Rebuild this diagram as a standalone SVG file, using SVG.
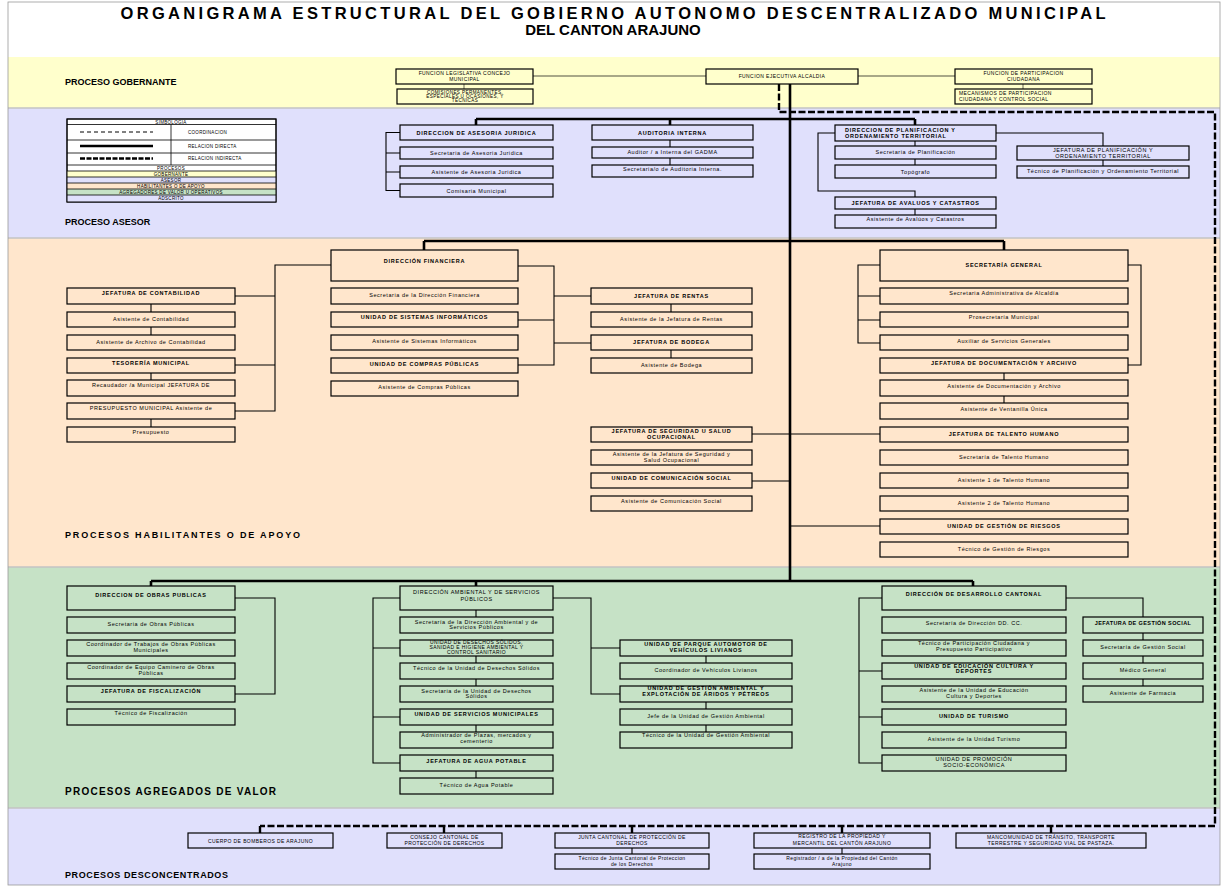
<svg xmlns="http://www.w3.org/2000/svg" width="1226" height="889" viewBox="0 0 1226 889">
<style>
.t{font-family:"Liberation Sans",Arial,sans-serif;font-size:5.5px;text-anchor:middle;fill:#000;letter-spacing:0.55px}
.s{font-size:5px;letter-spacing:0.4px}
.tb{font-family:"Liberation Sans",Arial,sans-serif;font-size:5.5px;text-anchor:middle;font-weight:bold;fill:#000;letter-spacing:0.75px}
.st{text-anchor:start}
.bx{fill:none;stroke:#000;stroke-width:1.2}
.ln{fill:none;stroke:#000;stroke-width:1.1}
.tk{fill:none;stroke:#000;stroke-width:2.6}
.gr{fill:none;stroke:#8c8c70;stroke-width:1.3}
.ds{fill:none;stroke:#000;stroke-width:2.4;stroke-dasharray:7 2.5}
.lab{font-family:"Liberation Sans",Arial,sans-serif;font-size:9px;font-weight:bold;fill:#000}
.ttl{font-family:"Liberation Sans",Arial,sans-serif;font-size:15px;font-weight:bold;text-anchor:middle;fill:#000}
.lg{font-family:"Liberation Sans",Arial,sans-serif;font-size:4.5px;fill:#000;letter-spacing:0.3px}
</style>
<rect x="0" y="0" width="1226" height="889" fill="#fff"/>
<g id="bands">
<rect x="8" y="57" width="1212" height="51" fill="#FFFFCC"/>
<rect x="8" y="108" width="1212" height="130" fill="#E0E0FC"/>
<rect x="8" y="238" width="1212" height="329" fill="#FFE6CC"/>
<rect x="8" y="567" width="1212" height="241" fill="#C6E2C6"/>
<rect x="8" y="808" width="1212" height="77" fill="#E0E0FC"/>
<path d="M8,108H1220M8,238H1220M8,567H1220M8,808H1220" stroke="#c4c4c4" stroke-width="1.5"/>
<rect x="8" y="2" width="1212" height="883" fill="none" stroke="#999" stroke-width="0.8"/>
</g>
<g id="title">
<text class="ttl" x="613" y="19" style="font-size:16.5px" textLength="985" lengthAdjust="spacing">ORGANIGRAMA ESTRUCTURAL DEL GOBIERNO AUTONOMO DESCENTRALIZADO MUNICIPAL</text>
<text class="ttl" x="613" y="35">DEL CANTON ARAJUNO</text>
</g>
<g id="labels">
<text class="lab" x="65" y="85">PROCESO  GOBERNANTE</text>
<text class="lab" x="65" y="225">PROCESO  ASESOR</text>
<text class="lab" x="65" y="538" textLength="235" lengthAdjust="spacing">PROCESOS HABILITANTES O DE APOYO</text>
<text class="lab" x="65" y="795" style="font-size:10px" textLength="211" lengthAdjust="spacing">PROCESOS AGREGADOS DE VALOR</text>
<text class="lab" x="65" y="878" textLength="163" lengthAdjust="spacing">PROCESOS DESCONCENTRADOS</text>
</g>
<g id="legend">
<rect x="67" y="119" width="209" height="83" fill="#fff" stroke="#000" stroke-width="1"/>
<rect x="67" y="171" width="209" height="6" fill="#FFFFCC"/>
<rect x="67" y="177" width="209" height="6" fill="#E0E0FC"/>
<rect x="67" y="183" width="209" height="6" fill="#FFE6CC"/>
<rect x="67" y="189" width="209" height="6" fill="#C6E2C6"/>
<rect x="67" y="195" width="209" height="7" fill="#E0E0FC"/>
<path d="M67,124.5H276M67,140H276M67,153H276M67,165H276M67,171H276M67,177H276M67,183H276M67,189H276M67,195H276M171,124.5V165" stroke="#000" stroke-width="0.8" fill="none"/>
<rect x="67" y="119" width="209" height="83" fill="none" stroke="#000" stroke-width="1"/>
<text class="lg" x="171" y="123.5" text-anchor="middle">SIMBOLOGIA</text>
<path d="M80,132H153" stroke="#000" stroke-width="1" stroke-dasharray="4 3"/>
<text class="lg" x="188" y="134">COORDINACION</text>
<path d="M80,146H153" stroke="#000" stroke-width="2.6"/>
<text class="lg" x="188" y="147.5">RELACION  DIRECTA</text>
<path d="M80,158.5H153" stroke="#000" stroke-width="2.6" stroke-dasharray="5 1.5"/>
<text class="lg" x="188" y="160">RELACION  INDIRECTA</text>
<text class="lg" x="171" y="169.8" text-anchor="middle">PROCESOS</text>
<text class="lg" x="171" y="175.8" text-anchor="middle">GOBERNANTE</text>
<text class="lg" x="171" y="181.8" text-anchor="middle">ASESOR</text>
<text class="lg" x="171" y="187.8" text-anchor="middle">HABILITANTES O  DE  APOYO</text>
<text class="lg" x="171" y="193.8" text-anchor="middle">AGREGADORES DE  VALOR  U OPERATIVOS</text>
<text class="lg" x="171" y="200.3" text-anchor="middle">ADSCRITO</text>
</g>
<g id="connectors">
<path class="gr" d="M533,76H706M858,76H955M464,84V89M1023,84V89"/>
<path class="tk" d="M790,84V581"/>
<path class="ds" d="M779,84V112H1215V826H260M260,826V833M444,826V833M632,826V833M842,826V833M1051,826V833"/>
<path class="tk" d="M476,119H915M476,119V125M670,119V125M915,119V125"/>
<path class="ln" d="M400,132.5H386V190.5H400M386,153H400M386,172H400"/>
<path class="ln" d="M670,140V147M670,158V165"/>
<path class="ln" d="M915,141V146M915,159V165M835,133H818V191H915V197M996,133H1103V146M1103,160V166M915,209V215"/>
<path class="tk" d="M424,241H1004M424,241V250M1004,241V250"/>
<path class="ln" d="M151,304V312M151,327V335M151,373V380M151,419V427"/>
<path class="ln" d="M331,265H275V411H235M275,296H235M275,365H235"/>
<path class="ln" d="M518,266H554V365H518M554,320H518M554,296H591M554,343H591"/>
<path class="ln" d="M671,304V312M671,350V358"/>
<path class="ln" d="M752,434H880M752,481H790M790,526H880"/>
<path class="ln" d="M880,265H858V343H880M858,296H880M858,320H880M1128,265H1141V365H1128M1004,373V380M1004,396V403"/>
<path class="tk" d="M151,581H973M151,581V586M476,581V586M973,581V586"/>
<path class="ln" d="M235,598H275V694H235"/>
<path class="ln" d="M476,610V617M476,656V663M476,679V686M476,725V732M476,771V778"/>
<path class="ln" d="M400,598H373V763H400M373,648H400M373,717H400"/>
<path class="ln" d="M553,598H591V694H620M591,648H620"/>
<path class="ln" d="M706,656V663M706,702V709M706,725V732"/>
<path class="ln" d="M882,598H859V763H882M859,671H882M859,717H882"/>
<path class="ln" d="M1066,598H1143V617M1143,633V640M1143,656V663M1143,679V686"/>
<path class="ln" d="M632,848V854M842,848V854"/>
</g>
<!-- GOBERNANTE -->
<g id="n-legislativa"><rect class="bx" x="396" y="69" width="137" height="15"/><text class="t s" x="464.5" y="75">FUNCION  LEGISLATIVA CONCEJO</text><text class="t s" x="464.5" y="81">MUNICIPAL</text></g>
<g id="n-comisiones"><rect class="bx" x="397" y="89" width="136" height="15"/><text class="t s" x="465" y="93.5" style="font-size:4.6px">COMISIONES PERMANENTES,</text><text class="t s" x="465" y="97.8" style="font-size:4.6px">ESPECIALES U OCASIONES, Y</text><text class="t s" x="465" y="102.1" style="font-size:4.6px">TECNICAS</text></g>
<g id="n-ejecutiva"><rect class="bx" x="706" y="69" width="152" height="15"/><text class="t s" x="782" y="78">FUNCION  EJECUTIVA  ALCALDIA</text></g>
<g id="n-participacion"><rect class="bx" x="955" y="69" width="137" height="15"/><text class="t s" x="1023.5" y="75">FUNCION  DE PARTICIPACION</text><text class="t s" x="1023.5" y="81">CIUDADANA</text></g>
<g id="n-mecanismos"><rect class="bx" x="955" y="89" width="137" height="15"/><text class="t s st" x="959" y="95">MECANISMOS DE PARTICIPACION</text><text class="t s st" x="959" y="101">CIUDADANA Y CONTROL SOCIAL</text></g>
<!-- ASESOR -->
<g id="n-juridica"><rect class="bx" x="400" y="125" width="153" height="15"/><text class="tb" x="476.5" y="134.5">DIRECCION DE ASESORIA JURIDICA</text></g>
<g id="n-sec-juridica"><rect class="bx" x="400" y="147" width="153" height="12"/><text class="t" x="476.5" y="155">Secretaria de Asesoria Juridica</text></g>
<g id="n-asis-juridica"><rect class="bx" x="400" y="166" width="153" height="12"/><text class="t" x="476.5" y="174">Asistente  de  Asesoria  Juridica</text></g>
<g id="n-comisaria"><rect class="bx" x="400" y="184" width="153" height="13"/><text class="t" x="476.5" y="192.5">Comisaria  Municipal</text></g>
<g id="n-auditoria"><rect class="bx" x="592" y="125" width="161" height="15"/><text class="tb" x="672.5" y="134.5">AUDITORIA INTERNA</text></g>
<g id="n-auditor"><rect class="bx" x="592" y="147" width="161" height="11"/><text class="t" x="672.5" y="153.5">Auditor / a Interna  del  GADMA</text></g>
<g id="n-sec-auditoria"><rect class="bx" x="592" y="165" width="161" height="12"/><text class="t" x="672.5" y="171">Secretaria/o de  Auditoria  Interna.</text></g>
<g id="n-planificacion"><rect class="bx" x="835" y="125" width="161" height="16"/><text class="tb st" x="845" y="131.5">DIRECCION DE PLANIFICACION Y</text><text class="tb st" x="845" y="137.5">ORDENAMIENTO TERRITORIAL</text></g>
<g id="n-sec-plan"><rect class="bx" x="835" y="146" width="161" height="13"/><text class="t" x="915.5" y="154">Secretaria  de  Planificación</text></g>
<g id="n-topografo"><rect class="bx" x="835" y="165" width="161" height="13"/><text class="t" x="915.5" y="173.5">Topógrafo</text></g>
<g id="n-avaluos"><rect class="bx" x="835" y="197" width="161" height="12"/><text class="tb" x="915.5" y="204.5">JEFATURA  DE  AVALUOS  Y  CATASTROS</text></g>
<g id="n-asis-avaluos"><rect class="bx" x="835" y="215" width="161" height="13"/><text class="t" x="915.5" y="220.5">Asistente  de  Avalúos  y Catastros</text></g>
<g id="n-jef-plan"><rect class="bx" x="1017" y="146" width="172" height="14"/><text class="t" x="1103" y="152">JEFATURA  DE  PLANIFICACIÓN  Y</text><text class="t" x="1103" y="158">ORDENAMIENTO TERRITORIAL</text></g>
<g id="n-tec-plan"><rect class="bx" x="1017" y="166" width="172" height="12"/><text class="t" x="1103" y="172.5">Técnico  de  Planificación y Ordenamiento Territorial</text></g>
<!-- HABILITANTES -->
<g id="n-financiera"><rect class="bx" x="331" y="250" width="187" height="31"/><text class="tb" x="424.5" y="263">DIRECCIÓN FINANCIERA</text></g>
<g id="n-sec-fin"><rect class="bx" x="331" y="288" width="187" height="16"/><text class="t" x="424.5" y="296.5">Secretaria  de  la Dirección  Financiera</text></g>
<g id="n-sistemas"><rect class="bx" x="331" y="312" width="187" height="15"/><text class="tb" x="424.5" y="319">UNIDAD  DE  SISTEMAS  INFORMÁTICOS</text></g>
<g id="n-asis-sis"><rect class="bx" x="331" y="335" width="187" height="15"/><text class="t" x="424.5" y="343">Asistente   de  Sistemas  Informáticos</text></g>
<g id="n-compras"><rect class="bx" x="331" y="358" width="187" height="15"/><text class="tb" x="424.5" y="366">UNIDAD  DE  COMPRAS  PÚBLICAS</text></g>
<g id="n-asis-compras"><rect class="bx" x="331" y="381" width="187" height="15"/><text class="t" x="424.5" y="389">Asistente   de  Compras  Públicas</text></g>
<g id="n-contabilidad"><rect class="bx" x="67" y="288" width="168" height="16"/><text class="tb" x="151" y="294.5">JEFATURA  DE  CONTABILIDAD</text></g>
<g id="n-asis-cont"><rect class="bx" x="67" y="312" width="168" height="15"/><text class="t" x="151" y="321">Asistente   de  Contabilidad</text></g>
<g id="n-asis-arch"><rect class="bx" x="67" y="335" width="168" height="15"/><text class="t" x="151" y="344">Asistente   de  Archivo  de  Contabilidad</text></g>
<g id="n-tesoreria"><rect class="bx" x="67" y="358" width="168" height="15"/><text class="tb" x="151" y="364.5">TESORERÍA MUNICIPAL</text></g>
<g id="n-recaudador"><rect class="bx" x="67" y="380" width="168" height="16"/><text class="t" x="151" y="387">Recaudador /a  Municipal  JEFATURA  DE</text></g>
<g id="n-presupuesto"><rect class="bx" x="67" y="403" width="168" height="16"/><text class="t" x="151" y="410">PRESUPUESTO     MUNICIPAL Asistente   de</text></g>
<g id="n-presup2"><rect class="bx" x="67" y="427" width="168" height="15"/><text class="t" x="151" y="433.5">Presupuesto</text></g>
<g id="n-rentas"><rect class="bx" x="591" y="288" width="161" height="16"/><text class="tb" x="671.5" y="297.5">JEFATURA  DE  RENTAS</text></g>
<g id="n-asis-rentas"><rect class="bx" x="591" y="312" width="161" height="15"/><text class="t" x="671.5" y="321">Asistente   de  la Jefatura  de  Rentas</text></g>
<g id="n-bodega"><rect class="bx" x="591" y="335" width="161" height="15"/><text class="tb" x="671.5" y="343.5">JEFATURA  DE  BODEGA</text></g>
<g id="n-asis-bodega"><rect class="bx" x="591" y="358" width="161" height="15"/><text class="t" x="671.5" y="367">Asistente   de  Bodega</text></g>
<g id="n-seguridad"><rect class="bx" x="591" y="427" width="161" height="15"/><text class="tb" x="671.5" y="433">JEFATURA  DE  SEGURIDAD U  SALUD</text><text class="tb" x="671.5" y="438.5">OCUPACIONAL</text></g>
<g id="n-asis-seg"><rect class="bx" x="591" y="450" width="161" height="15"/><text class="t" x="671.5" y="456">Asistente   de  la Jefatura  de  Seguridad  y</text><text class="t" x="671.5" y="461.5">Salud Ocupacional</text></g>
<g id="n-comunicacion"><rect class="bx" x="591" y="473" width="161" height="15"/><text class="tb" x="671.5" y="480">UNIDAD  DE  COMUNICACIÓN SOCIAL</text></g>
<g id="n-asis-com"><rect class="bx" x="591" y="496" width="161" height="15"/><text class="t" x="671.5" y="503">Asistente   de  Comunicación  Social</text></g>
<g id="n-secgeneral"><rect class="bx" x="880" y="250" width="248" height="31"/><text class="tb" x="1004" y="267">SECRETARÍA  GENERAL</text></g>
<g id="n-sec-adm"><rect class="bx" x="880" y="288" width="248" height="16"/><text class="t" x="1004" y="295">Secretaria  Administrativa de  Alcaldía</text></g>
<g id="n-prosec"><rect class="bx" x="880" y="312" width="248" height="15"/><text class="t" x="1004" y="319">Prosecretaría Municipal</text></g>
<g id="n-auxiliar"><rect class="bx" x="880" y="335" width="248" height="15"/><text class="t" x="1004" y="342.5">Auxiliar  de  Servicios  Generales</text></g>
<g id="n-documentacion"><rect class="bx" x="880" y="358" width="248" height="15"/><text class="tb" x="1004" y="365">JEFATURA  DE  DOCUMENTACIÓN  Y  ARCHIVO</text></g>
<g id="n-asis-doc"><rect class="bx" x="880" y="380" width="248" height="16"/><text class="t" x="1004" y="387.5">Asistente   de  Documentación y Archivo</text></g>
<g id="n-ventanilla"><rect class="bx" x="880" y="403" width="248" height="16"/><text class="t" x="1004" y="411">Asistente   de  Ventanilla  Única</text></g>
<g id="n-talento"><rect class="bx" x="880" y="427" width="248" height="15"/><text class="tb" x="1004" y="435.5">JEFATURA  DE  TALENTO  HUMANO</text></g>
<g id="n-sec-th"><rect class="bx" x="880" y="450" width="248" height="15"/><text class="t" x="1004" y="459">Secretaría  de  Talento  Humano</text></g>
<g id="n-asis1-th"><rect class="bx" x="880" y="473" width="248" height="15"/><text class="t" x="1004" y="482">Asistente   1 de  Talento  Humano</text></g>
<g id="n-asis2-th"><rect class="bx" x="880" y="496" width="248" height="15"/><text class="t" x="1004" y="505">Asistente   2 de  Talento  Humano</text></g>
<g id="n-riesgos"><rect class="bx" x="880" y="519" width="248" height="15"/><text class="tb" x="1004" y="527.5">UNIDAD  DE  GESTIÓN  DE  RIESGOS</text></g>
<g id="n-tec-riesgos"><rect class="bx" x="880" y="542" width="248" height="15"/><text class="t" x="1004" y="551">Técnico  de  Gestión  de  Riesgos</text></g>
<!-- AGREGADOS -->
<g id="n-obras"><rect class="bx" x="67" y="586" width="168" height="24"/><text class="tb" x="151" y="597">DIRECCION DE OBRAS PUBLICAS</text></g>
<g id="n-sec-obras"><rect class="bx" x="67" y="617" width="168" height="16"/><text class="t" x="151" y="626">Secretaria  de  Obras  Públicas</text></g>
<g id="n-coord-obras"><rect class="bx" x="67" y="640" width="168" height="16"/><text class="t" x="151" y="646">Coordinador de  Trabajos  de  Obras  Públicas</text><text class="t" x="151" y="651.5">Municipales</text></g>
<g id="n-coord-caminero"><rect class="bx" x="67" y="663" width="168" height="16"/><text class="t" x="151" y="669">Coordinador de   Equipo  Caminero  de  Obras</text><text class="t" x="151" y="674.5">Públicas</text></g>
<g id="n-fiscalizacion"><rect class="bx" x="67" y="686" width="168" height="16"/><text class="tb" x="151" y="692.5">JEFATURA  DE  FISCALIZACIÓN</text></g>
<g id="n-tec-fisc"><rect class="bx" x="67" y="709" width="168" height="16"/><text class="t" x="151" y="715">Técnico  de  Fiscalización</text></g>
<g id="n-ambiental"><rect class="bx" x="400" y="586" width="153" height="24"/><text class="t" x="476.5" y="593.5">DIRECCIÓN AMBIENTAL Y  DE  SERVICIOS</text><text class="t" x="476.5" y="601">PÚBLICOS</text></g>
<g id="n-sec-amb"><rect class="bx" x="400" y="617" width="153" height="16"/><text class="t" x="476.5" y="623.5">Secretaría  de  la Dirección  Ambiental   y de</text><text class="t" x="476.5" y="629">Servicios Públicos</text></g>
<g id="n-desechos"><rect class="bx" x="400" y="640" width="153" height="16"/><text class="t s" x="476.5" y="643.5">UNIDAD  DE  DESECHOS  SÓLIDOS,</text><text class="t s" x="476.5" y="648.5">SANIDAD  E HIGIENE AMBIENTAL Y</text><text class="t s" x="476.5" y="653.5">CONTROL  SANITARIO</text></g>
<g id="n-tec-des"><rect class="bx" x="400" y="663" width="153" height="16"/><text class="t" x="476.5" y="670">Técnico  de la Unidad  de  Desechos  Sólidos</text></g>
<g id="n-sec-des"><rect class="bx" x="400" y="686" width="153" height="16"/><text class="t" x="476.5" y="692.5">Secretaria  de  la Unidad  de  Desechos</text><text class="t" x="476.5" y="698">Sólidos</text></g>
<g id="n-servicios"><rect class="bx" x="400" y="709" width="153" height="16"/><text class="tb" x="476.5" y="716">UNIDAD  DE  SERVICIOS  MUNICIPALES</text></g>
<g id="n-plazas"><rect class="bx" x="400" y="732" width="153" height="16"/><text class="t" x="476.5" y="737">Administrador de  Plazas,  mercados  y</text><text class="t" x="476.5" y="742.5">cementerio</text></g>
<g id="n-agua"><rect class="bx" x="400" y="755" width="153" height="16"/><text class="tb" x="476.5" y="763">JEFATURA  DE  AGUA  POTABLE</text></g>
<g id="n-tec-agua"><rect class="bx" x="400" y="778" width="153" height="16"/><text class="t" x="476.5" y="786.5">Técnico  de  Agua  Potable</text></g>
<g id="n-parque"><rect class="bx" x="620" y="640" width="172" height="16"/><text class="tb" x="706" y="646">UNIDAD  DE  PARQUE  AUTOMOTOR DE</text><text class="tb" x="706" y="652">VEHÍCULOS LIVIANOS</text></g>
<g id="n-coord-veh"><rect class="bx" x="620" y="663" width="172" height="16"/><text class="t" x="706" y="671.5">Coordinador de  Vehículos  Livianos</text></g>
<g id="n-gestion-amb"><rect class="bx" x="620" y="686" width="172" height="16"/><text class="tb" x="706" y="689.5">UNIDAD  DE  GESTIÓN  AMBIENTAL Y</text><text class="tb" x="706" y="695.5">EXPLOTACIÓN DE  ÁRIDOS  Y  PÉTREOS</text></g>
<g id="n-jefe-amb"><rect class="bx" x="620" y="709" width="172" height="16"/><text class="t" x="706" y="718">Jefe  de  la Unidad  de  Gestión  Ambiental</text></g>
<g id="n-tec-amb"><rect class="bx" x="620" y="732" width="172" height="16"/><text class="t" x="706" y="737">Técnico  de  la Unidad  de  Gestión  Ambiental</text></g>
<g id="n-desarrollo"><rect class="bx" x="882" y="586" width="184" height="24"/><text class="tb" x="974" y="596">DIRECCIÓN  DE  DESARROLLO CANTONAL</text></g>
<g id="n-sec-dc"><rect class="bx" x="882" y="617" width="184" height="16"/><text class="t" x="974" y="625">Secretaría  de  Dirección DD. CC.</text></g>
<g id="n-tec-part"><rect class="bx" x="882" y="640" width="184" height="16"/><text class="t" x="974" y="645">Técnico de Participación Ciudadana  y</text><text class="t" x="974" y="650.5">Presupuesto Participativo</text></g>
<g id="n-educacion"><rect class="bx" x="882" y="663" width="184" height="16"/><text class="tb" x="974" y="667.5">UNIDAD  DE EDUCACIÓN CULTURA  Y</text><text class="tb" x="974" y="673">DEPORTES</text></g>
<g id="n-asis-edu"><rect class="bx" x="882" y="686" width="184" height="16"/><text class="t" x="974" y="692">Asistente  de la Unidad  de  Educación</text><text class="t" x="974" y="697.5">Cultura  y  Deportes</text></g>
<g id="n-turismo"><rect class="bx" x="882" y="709" width="184" height="16"/><text class="tb" x="974" y="718">UNIDAD  DE  TURISMO</text></g>
<g id="n-asis-tur"><rect class="bx" x="882" y="732" width="184" height="16"/><text class="t" x="974" y="741">Asistente   de  la Unidad Turismo</text></g>
<g id="n-promocion"><rect class="bx" x="882" y="755" width="184" height="16"/><text class="t" x="974" y="761">UNIDAD  DE  PROMOCIÓN</text><text class="t" x="974" y="766.5">SOCIO-ECONÓMICA</text></g>
<g id="n-gestion-social"><rect class="bx" x="1083" y="617" width="120" height="16"/><text class="tb" x="1143" y="625" style="letter-spacing:0.4px">JEFATURA  DE  GESTIÓN  SOCIAL</text></g>
<g id="n-sec-gs"><rect class="bx" x="1083" y="640" width="120" height="16"/><text class="t" x="1143" y="649">Secretaría  de  Gestión  Social</text></g>
<g id="n-medico"><rect class="bx" x="1083" y="663" width="120" height="16"/><text class="t" x="1143" y="672">Médico  General</text></g>
<g id="n-farmacia"><rect class="bx" x="1083" y="686" width="120" height="16"/><text class="t" x="1143" y="694.5">Asistente   de  Farmacia</text></g>
<!-- DESCONCENTRADOS -->
<g id="n-bomberos"><rect class="bx" x="188" y="833" width="145" height="15"/><text class="t s" x="260.5" y="842.5">CUERPO DE BOMBEROS DE ARAJUNO</text></g>
<g id="n-consejo"><rect class="bx" x="387" y="833" width="115" height="15"/><text class="t s" x="444.5" y="838.5">CONSEJO  CANTONAL DE</text><text class="t s" x="444.5" y="845">PROTECCIÓN DE DERECHOS</text></g>
<g id="n-junta"><rect class="bx" x="555" y="833" width="154" height="15"/><text class="t s" x="632" y="838.5">JUNTA  CANTONAL DE PROTECCIÓN DE</text><text class="t s" x="632" y="845">DERECHOS</text></g>
<g id="n-registro"><rect class="bx" x="754" y="833" width="176" height="15"/><text class="t s" x="842" y="837.5">REGISTRO  DE  LA  PROPIEDAD Y</text><text class="t s" x="842" y="845">MERCANTIL DEL  CANTÓN ARAJUNO</text></g>
<g id="n-mancomunidad"><rect class="bx" x="956" y="833" width="190" height="15"/><text class="t s" x="1051" y="838.5">MANCOMUNIDAD DE  TRÁNSITO,  TRANSPORTE</text><text class="t s" x="1051" y="845">TERRESTRE Y SEGURIDAD VIAL  DE  PASTAZA.</text></g>
<g id="n-tec-junta"><rect class="bx" x="555" y="854" width="154" height="15"/><text class="t s" x="632" y="859.5">Técnico de Junta Cantonal de Proteccion</text><text class="t s" x="632" y="865.5">de los Derechos</text></g>
<g id="n-registrador"><rect class="bx" x="754" y="854" width="176" height="15"/><text class="t s" x="842" y="859.5">Registrador / a de  la Propiedad  del  Cantón</text><text class="t s" x="842" y="865.5">Arajuno</text></g>
</svg>
